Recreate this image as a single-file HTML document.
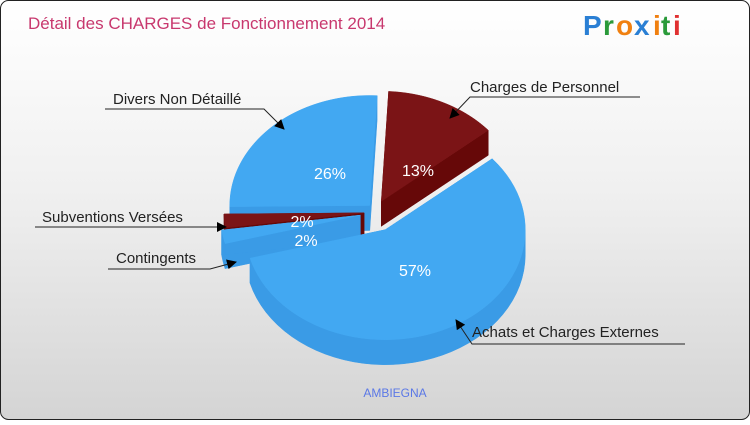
<!DOCTYPE html>
<html><head><meta charset="utf-8"><style>
body{margin:0;width:750px;height:420px;overflow:hidden;font-family:"Liberation Sans",sans-serif}
</style></head><body>
<svg id="c" width="750" height="420" xmlns="http://www.w3.org/2000/svg">
<defs><linearGradient id="bg" x1="0" y1="0" x2="0" y2="1"><stop offset="0" stop-color="#ffffff"/><stop offset="0.45" stop-color="#f0f0f0"/><stop offset="1" stop-color="#d4d4d4"/></linearGradient>
<marker id="ar" markerWidth="10" markerHeight="10" refX="9" refY="5" orient="auto" markerUnits="userSpaceOnUse"><path d="M0,0 L10,5 L0,10 z" fill="#000"/></marker></defs>
<rect x="0.5" y="0.5" width="749" height="419" rx="8" fill="url(#bg)" stroke="#222"/>
<text x="28" y="29" font-size="17" fill="#c8386e">Détail des CHARGES de Fonctionnement 2014</text>
<g font-size="28" font-weight="bold" font-family="'Liberation Sans',sans-serif">
<text x="583" y="35" fill="#2a7fd4">P</text><text x="603" y="35" fill="#2a9a3a">r</text><text x="616" y="35" fill="#f08010">o</text><text x="634" y="35" fill="#2a7fd4">x</text><text x="653" y="35" fill="#f08010">i</text><text x="661" y="35" fill="#2a9a3a">t</text><text x="673" y="35" fill="#e03030">i</text></g>
<g id="pie"></g>
<g id="labels" font-size="15" fill="#222"></g>
<text x="395" y="397" font-size="12" fill="#5b78e6" text-anchor="middle">AMBIEGNA</text>
</svg>
<script>
const categories=["Charges de Personnel","Achats et Charges Externes","Contingents","Subventions Versées","Divers Non Détaillé"];
const values=[13,57,2,2,26];
const pctLabels=["13%","57%","2%","2%","26%"];
const ns="http://www.w3.org/2000/svg";
const cx=376,cy=212,rx=140,ry=110,depth=25,startAngle=3;
const explode=[12,20,16,12,9];
const tops=["#7b1416","#42a8f2","#42a8f2","#7b1416","#42a8f2"];
const sides=["#660808","#3a9be6","#3a9be6","#660808","#3a9be6"];
const total=values.reduce((a,b)=>a+b,0);
function pt(a,ox,oy,dy){const r=a*Math.PI/180;return [cx+ox+rx*Math.sin(r),cy+oy-ry*Math.cos(r)+dy];}
const slices=[];let acc=startAngle;
values.forEach((v,i)=>{const a0=acc,a1=acc+v/total*360;acc=a1;const m=(a0+a1)/2,mr=m*Math.PI/180;
slices.push({i,a0,a1,m,ox:explode[i]*Math.sin(mr),oy:-explode[i]*Math.cos(mr)});});
const g=document.getElementById('pie');
function poly(pts,fill,name){const p=document.createElementNS(ns,'path');p.setAttribute('d','M'+pts.map(q=>q.join(',')).join('L')+'Z');p.setAttribute('fill',fill);p.setAttribute('stroke',fill);p.setAttribute('stroke-width','0.5');


g.appendChild(p);}
const order=slices.slice().sort((a,b)=>(-Math.cos(a.m*Math.PI/180))-(-Math.cos(b.m*Math.PI/180)));
order.forEach(s=>{const c=[cx+s.ox,cy+s.oy];
[s.a0,s.a1].forEach(a=>{const t=pt(a,s.ox,s.oy,0),b=pt(a,s.ox,s.oy,depth);poly([c,t,b,[c[0],c[1]+depth]],sides[s.i],'slice-edge-wall');});
const lo=Math.max(s.a0,90),hi=Math.min(s.a1,270);
if(hi>lo){const up=[],dn=[];for(let a=lo;a<=hi+0.001;a+=(hi-lo)/40){up.push(pt(a,s.ox,s.oy,0));dn.unshift(pt(a,s.ox,s.oy,depth));}poly(up.concat(dn),sides[s.i],'slice-outer-wall');}
const top=[c];for(let a=s.a0;a<=s.a1+0.001;a+=(s.a1-s.a0)/60)top.push(pt(a,s.ox,s.oy,0));
poly(top,tops[s.i],'slice-'+categories[s.i].toLowerCase().replace(/[^a-z]+/g,'-'));});
const pctPos=[[418,176],[415,276],[306,246],[302,227],[330,179]];
slices.forEach(s=>{const t=document.createElementNS(ns,'text');const p=pctPos[s.i];
t.setAttribute('x',p[0]);t.setAttribute('y',p[1]);t.setAttribute('fill','#fff');t.setAttribute('font-size','16');t.setAttribute('text-anchor','middle');t.textContent=pctLabels[s.i];


g.appendChild(t);});
const L=document.getElementById('labels');
const lab=[[470,92,[[640,97],[470,97],[450,118]]],[472,337,[[685,344],[472,344],[456,320]]],[116,263,[[108,269],[210,269],[236,262]]],[42,222,[[35,227],[207,227],[226,227]]],[113,104,[[105,109],[264,109],[284,129]]]];
lab.forEach((l,i)=>{const t=document.createElementNS(ns,'text');t.setAttribute('x',l[0]);t.setAttribute('y',l[1]);t.textContent=categories[i];


L.appendChild(t);
const pl=document.createElementNS(ns,'polyline');pl.setAttribute('points',l[2].map(q=>q.join(',')).join(' '));pl.setAttribute('fill','none');pl.setAttribute('stroke','#222');pl.setAttribute('stroke-width','1');pl.setAttribute('marker-end','url(#ar)');


L.appendChild(pl);});
</script>
</body></html>
